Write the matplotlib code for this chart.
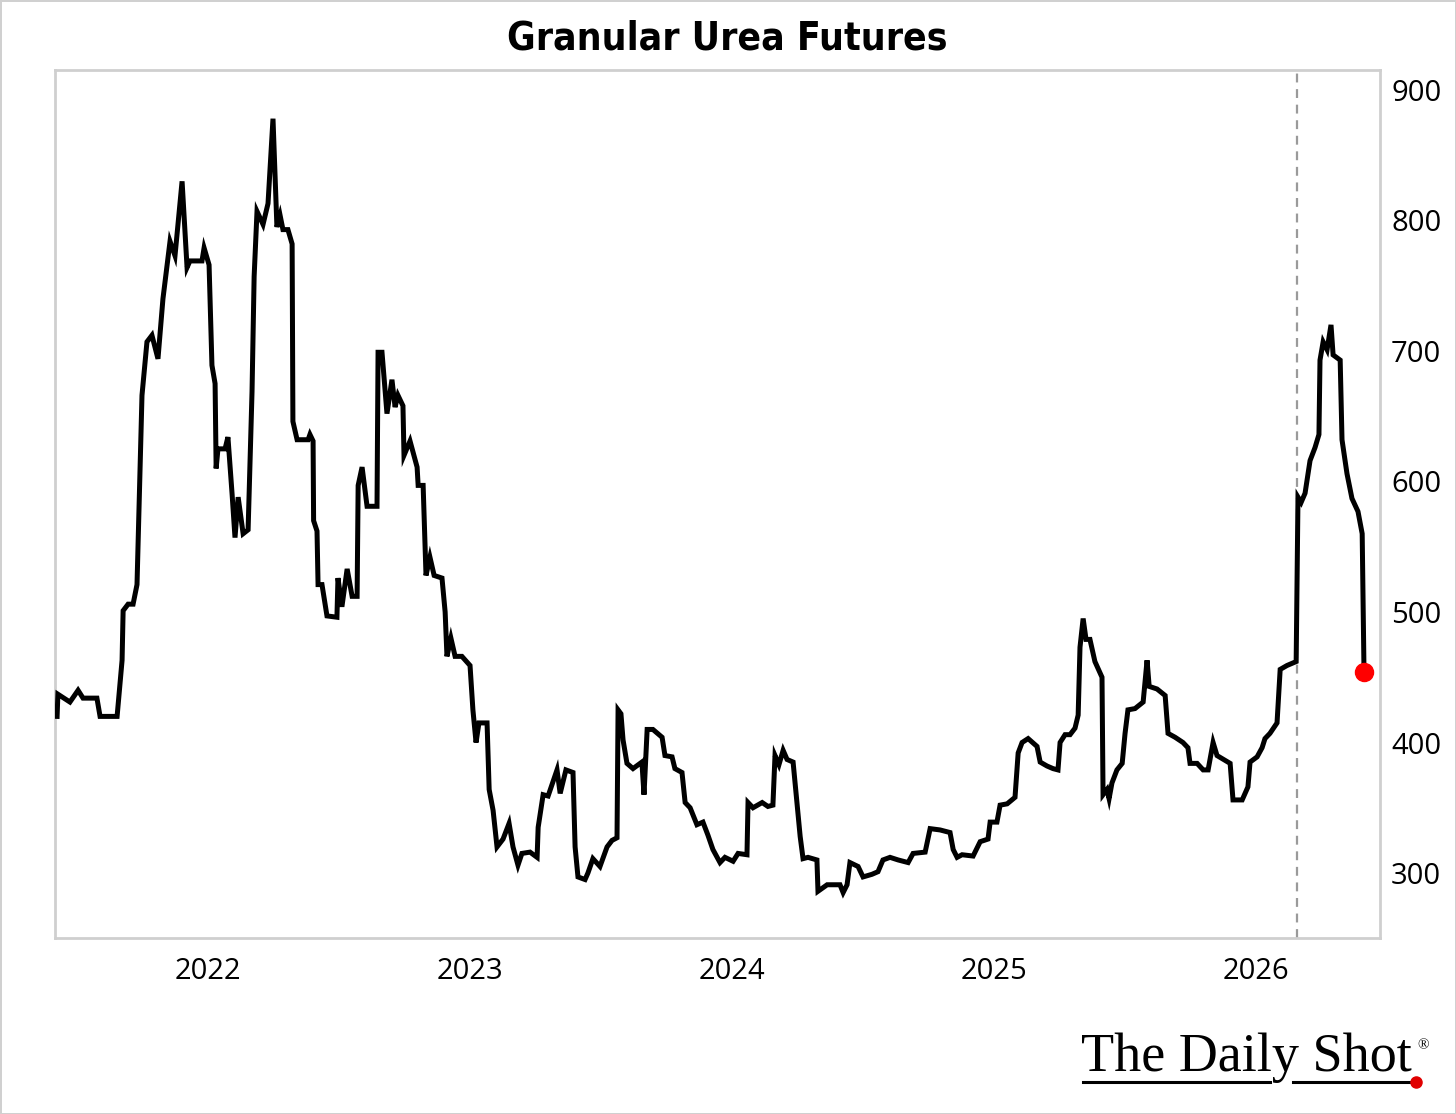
import matplotlib
matplotlib.use("Agg")
import matplotlib.pyplot as plt
from matplotlib.lines import Line2D
import numpy as np

# ---- data (decimal year, price) ----
dates = [
    2021.424, 2021.427, 2021.473, 2021.504, 2021.523, 2021.576, 2021.588, 2021.653,
    2021.672, 2021.676, 2021.695, 2021.714, 2021.729, 2021.748, 2021.767, 2021.786,
    2021.809, 2021.828, 2021.855, 2021.874, 2021.901, 2021.920, 2021.931, 2021.977,
    2021.985, 2022.004, 2022.015, 2022.027, 2022.031, 2022.038, 2022.065, 2022.076,
    2022.092, 2022.103, 2022.115, 2022.134, 2022.153, 2022.168, 2022.176, 2022.187,
    2022.210, 2022.229, 2022.248, 2022.263, 2022.275, 2022.286, 2022.305, 2022.321,
    2022.324, 2022.340, 2022.382, 2022.389, 2022.401, 2022.403, 2022.416, 2022.420,
    2022.435, 2022.454, 2022.492, 2022.496, 2022.511, 2022.531, 2022.550, 2022.569,
    2022.573, 2022.588, 2022.607, 2022.645, 2022.649, 2022.664, 2022.683, 2022.702,
    2022.714, 2022.725, 2022.744, 2022.748, 2022.771, 2022.798, 2022.802, 2022.821,
    2022.832, 2022.847, 2022.863, 2022.893, 2022.905, 2022.912, 2022.927, 2022.943,
    2022.969, 2023.000, 2023.011, 2023.023, 2023.034, 2023.065, 2023.073, 2023.088,
    2023.103, 2023.126, 2023.149, 2023.164, 2023.183, 2023.198, 2023.229, 2023.256,
    2023.260, 2023.279, 2023.298, 2023.332, 2023.344, 2023.366, 2023.393, 2023.401,
    2023.412, 2023.439, 2023.450, 2023.469, 2023.496, 2023.523, 2023.542, 2023.561,
    2023.565, 2023.576, 2023.584, 2023.599, 2023.622, 2023.656, 2023.664, 2023.676,
    2023.698, 2023.733, 2023.744, 2023.771, 2023.782, 2023.809, 2023.821, 2023.840,
    2023.866, 2023.889, 2023.908, 2023.927, 2023.954, 2023.973, 2024.004, 2024.023,
    2024.057, 2024.061, 2024.080, 2024.115, 2024.137, 2024.156, 2024.164, 2024.179,
    2024.195, 2024.210, 2024.233, 2024.260, 2024.271, 2024.290, 2024.324, 2024.328,
    2024.363, 2024.412, 2024.424, 2024.439, 2024.450, 2024.481, 2024.500, 2024.534,
    2024.557, 2024.576, 2024.603, 2024.634, 2024.672, 2024.691, 2024.737, 2024.756,
    2024.794, 2024.832, 2024.844, 2024.859, 2024.878, 2024.920, 2024.947, 2024.977,
    2024.985, 2025.011, 2025.023, 2025.050, 2025.080, 2025.092, 2025.107, 2025.130,
    2025.164, 2025.176, 2025.202, 2025.225, 2025.244, 2025.252, 2025.271, 2025.290,
    2025.309, 2025.321, 2025.328, 2025.340, 2025.351, 2025.366, 2025.385, 2025.405,
    2025.412, 2025.416, 2025.431, 2025.439, 2025.450, 2025.469, 2025.489, 2025.500,
    2025.511, 2025.538, 2025.569, 2025.584, 2025.592, 2025.622, 2025.653, 2025.664,
    2025.691, 2025.721, 2025.740, 2025.748, 2025.775, 2025.798, 2025.817, 2025.836,
    2025.851, 2025.901, 2025.912, 2025.947, 2025.969, 2025.977, 2026.004, 2026.023,
    2026.034, 2026.053, 2026.080, 2026.092, 2026.118, 2026.153, 2026.160, 2026.172,
    2026.187, 2026.206, 2026.225, 2026.240, 2026.244, 2026.256, 2026.271, 2026.286,
    2026.294, 2026.321, 2026.328, 2026.347, 2026.366, 2026.389, 2026.405, 2026.412,
]
prices = [
    420, 437, 431, 440, 434, 434, 420, 420,
    463, 501, 506, 506, 521, 666, 707, 712,
    694, 740, 784, 773, 830, 764, 769, 769,
    779, 766, 689, 675, 610, 625, 625, 634,
    590, 557, 588, 560, 563, 669, 757, 807,
    797, 813, 878, 795, 804, 793, 793, 782,
    646, 632, 632, 636, 631, 570, 562, 521,
    521, 497, 496, 526, 504, 533, 512, 512,
    597, 611, 581, 581, 699, 699, 652, 678,
    657, 666, 658, 620, 631, 611, 597, 597,
    528, 542, 528, 526, 500, 466, 480, 466,
    466, 459, 425, 400, 415, 415, 364, 348,
    320, 326, 338, 320, 306, 315, 316, 312,
    335, 360, 359, 379, 361, 379, 377, 320,
    297, 295, 300, 311, 305, 320, 325, 327,
    425, 422, 402, 384, 380, 385, 360, 410,
    410, 404, 390, 389, 380, 377, 354, 350,
    337, 339, 329, 318, 308, 312, 309, 315,
    314, 354, 350, 354, 351, 352, 390, 383,
    394, 387, 385, 328, 311, 312, 310, 286,
    291, 291, 285, 291, 308, 305, 297, 299,
    301, 310, 312, 310, 308, 315, 316, 334,
    333, 331, 318, 312, 314, 313, 324, 326,
    339, 339, 352, 353, 358, 392, 400, 403,
    397, 385, 382, 380, 379, 400, 406, 406,
    411, 421, 473, 495, 479, 479, 462, 453,
    450, 360, 364, 357, 369, 379, 384, 407,
    425, 426, 431, 463, 443, 441, 436, 407,
    404, 400, 396, 384, 384, 379, 379, 400,
    390, 384, 356, 356, 366, 385, 389, 396,
    403, 407, 415, 456, 459, 462, 588, 584,
    591, 616, 626, 636, 693, 707, 701, 720,
    697, 693, 632, 606, 587, 577, 560, 454,
]
title = "Granular Urea Futures"
x_ticks = [2022, 2023, 2024, 2025, 2026]
x_labels = ["2022", "2023", "2024", "2025", "2026"]
y_ticks = [300, 400, 500, 600, 700, 800, 900]
marker_date = 2026.156

W, H = 1456, 1114
fig = plt.figure(figsize=(W / 100, H / 100), dpi=100)
fig.patch.set_facecolor("white")
fig.patch.set_edgecolor("#d0d0d0")
fig.patch.set_linewidth(2)

ax = fig.add_axes([55 / W, 1 - 938 / H, (1380 - 55) / W, (938 - 70) / H])
ax.plot(dates, prices, color="black", lw=3.6, solid_joinstyle="miter", zorder=3)
ax.plot(dates[-1], prices[-1], "o", color="#ff0000", ms=13, zorder=4)
ax.axvline(marker_date, color="#9a9a9a", lw=1.6, dashes=(4, 3), zorder=2)

ax.set_xlim(2021.416, 2026.473)
ax.set_ylim(250.2, 915.3)
ax.set_xticks(x_ticks)
ax.set_xticklabels(x_labels)
ax.set_yticks(y_ticks)
ax.yaxis.tick_right()
ax.tick_params(axis="both", length=0, labelsize=21, colors="black")
ax.tick_params(axis="y", pad=8)
ax.tick_params(axis="x", pad=14)
for lab in ax.get_xticklabels() + ax.get_yticklabels():
    lab.set_family(["Open Sans", "DejaVu Sans"])
for s in ax.spines.values():
    s.set_color("#cfcfcf")
    s.set_linewidth(2)

fig.text(727 / W, 1 - 38 / H, title, ha="center", va="center", fontsize=28,
         fontweight="bold", fontstretch="condensed",
         family=["DejaVu Sans", "Open Sans"])

# logo
fig.text(1081 / W, 1 - 1058 / H, "The Daily Shot", ha="left", va="center",
         fontsize=39, family=["Liberation Serif", "DejaVu Serif"], color="black")
fig.text(1417 / W, 1 - 1046 / H, "®", ha="left", va="center", fontsize=11,
         family=["Liberation Serif", "DejaVu Serif"])
fig.add_artist(Line2D([1083 / W, 1270 / W], [1 - 1082 / H] * 2, color="black", lw=2.2))
fig.add_artist(Line2D([1293 / W, 1414 / W], [1 - 1082 / H] * 2, color="black", lw=2.2))
fig.add_artist(Line2D([1416 / W], [1 - 1082 / H], marker="o", color="#e00000", ms=8))

fig.savefig("out.png", dpi=100)
